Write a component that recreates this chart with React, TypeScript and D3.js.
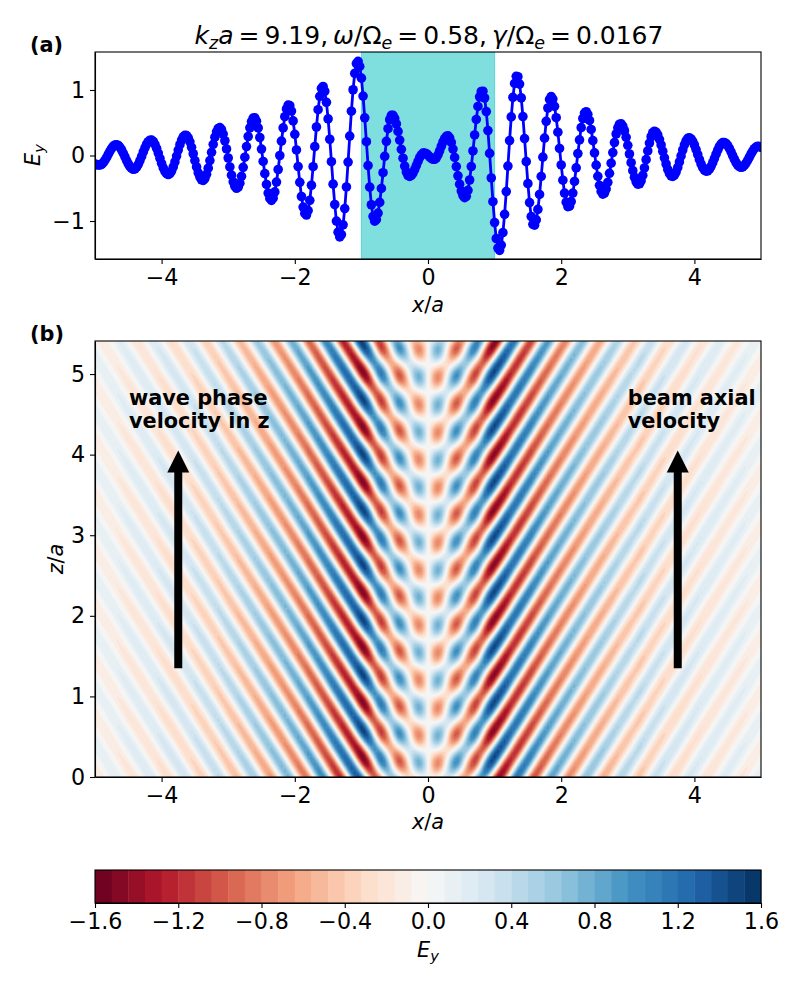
// App.tsx
import React, { useEffect, useRef } from 'react';
import * as d3 from 'd3';

// Ey(x), x = -5 .. 5, step 0.025
const eyLine = [
  -.13, -.14, -.145, -.145, -.134, -.109, -.072, -.029, .02, .067,
  .109, .141, .16, .165, .153, .125, .084, .033, -.022, -.078,
  -.129, -.17, -.198, -.21, -.204, -.178, -.135, -.078, -.014, .054,
  .118, .172, .211, .233, .235, .214, .171, .11, .037, -.043,
  -.12, -.189, -.243, -.278, -.29, -.276, -.237, -.175, -.098, -.008,
  .083, .165, .235, .284, .308, .304, .27, .209, .125, .027,
  -.077, -.175, -.264, -.33, -.37, -.38, -.352, -.287, -.193, -.078,
  .048, .171, .279, .362, .412, .425, .395, .327, .225, .1,
  -.038, -.175, -.3, -.402, -.47, -.5, -.484, -.423, -.318, -.181,
  -.026, .137, .29, .422, .517, .571, .575, .524, .421, .275,
  .098, -.091, -.277, -.442, -.573, -.656, -.685, -.652, -.556, -.405,
  -.214, 0, .219, .421, .592, .711, .77, .761, .679, .528,
  .324, .085, -.169, -.41, -.626, -.788, -.885, -.909, -.841, -.684,
  -.454, -.171, .135, .435, .699, .903, 1.025, 1.054, .981, .812,
  .559, .248, -.095, -.437, -.748, -1.001, -1.17, -1.243, -1.207, -1.058,
  -.81, -.48, -.101, .296, .676, 1.004, 1.253, 1.403, 1.438, 1.36,
  1.181, .908, .575, .211, -.154, -.483, -.752, -.931, -1.003, -.978,
  -.879, -.716, -.503, -.263, -.014, .216, .409, .546, .614, .612,
  .566, .482, .368, .235, .094, -.041, -.161, -.252, -.306, -.319,
  -.304, -.267, -.215, -.153, -.09, -.032, .011, .036, .039, .027,
  .005, -.02, -.043, -.058, -.058, -.035, .011, .072, .141, .206,
  .259, .292, .299, .27, .2, .098, -.03, -.169, -.31, -.437,
  -.542, -.612, -.644, -.623, -.531, -.374, -.169, .069, .314, .55,
  .749, .896, .977, .981, .878, .671, .38, .032, -.343, -.705,
  -1.024, -1.267, -1.413, -1.448, -1.367, -1.178, -.898, -.55, -.162, .228,
  .589, .888, 1.1, 1.209, 1.203, 1.09, .879, .595, .258, -.094,
  -.43, -.719, -.933, -1.05, -1.063, -.983, -.823, -.595, -.32, -.025,
  .265, .521, .725, .856, .9, .862, .751, .577, .356, .108,
  -.144, -.377, -.574, -.712, -.78, -.774, -.703, -.573, -.396, -.189,
  .03, .238, .425, .565, .648, .669, .629, .536, .398, .227,
  .04,
  -.147, -.318, -.456, -.548, -.589, -.574, -.513, -.409, -.272, -.118,
  .045, .198, .328, .423, .477, .483, .448, .378, .277, .156,
  .023, -.11, -.231, -.332, -.402, -.437, -.432, -.386, -.302, -.19,
  -.063, .07, .19, .286, .348, .37, .355, .313, .247, .161,
  .065, -.035, -.13, -.212, -.274, -.311, -.32, -.299, -.252, -.183,
  -.098, -.006, .084, .163, .224, .261, .27, .253, .216, .16,
  .091, .015, -.061, -.13, -.186, -.223, -.24, -.234, -.209, -.166,
  -.11, -.047, .02, .082, .136, .174, .196, .199, .183, .152,
  .108, .056, -.002, -.057, -.107, -.146, -.171, -.18, -.173, -.151,
  -.116, -.073, -.026, .024, .068, .104, .129, .14, .138, .125,
];
// Ey (b) a quarter wave up (z ~ 0.17), x = -5 .. 5, step 0.05
const eyQuarter = [
  -.101, -.026, .065, .137, .16, .121, .033, -.072, -.158, -.19,
  -.153, -.056, .067, .173, .223, .197, .095, -.047, -.178, -.253,
  -.242, -.139, .02, .179, .281, .291, .191, .017, -.172, -.307,
  -.342, -.248, -.052, .173, .344, .399, .305, .089, -.173, -.381,
  -.46, -.372, -.138, .159, .414, .536, .473, .227, -.115, -.433,
  -.613, -.586, -.336, .05, .436, .685, .707, .465, .041, -.42,
  -.748, -.833, -.602, -.125, .426, .842, .978, .745, .209, -.439,
  -.954, -1.15, -.932, -.353, .38, 1.01, 1.311, 1.162, .579, -.231,
  -.983, -1.409, -1.36, -.858, -.095, .638, 1.06, 1.032, .646, .05,
  -.546, -.93, -.977, -.736, -.302, .193, .603, .794, .726, .448,
  .043, -.376, -.686, -.8, -.652, -.256, .256, .717, .976, .937,
  .578, .01, -.575, -.988, -1.09, -.754, -.064, .718, 1.293, 1.44,
  1.105, .408, -.413, -1.057, -1.3, -1.09, -.534, .18, .806, 1.131,
  1.053, .618, -.013, -.608, -.948, -.921, -.587, -.07, .447, .78,
  .817, .575, .151, -.31, -.638, -.725, -.559, -.214, .191, .507,
  .63, .527, .253, -.095, -.393, -.536, -.483, -.272, .02, .292,
  .445, .432, .274, .03, -.214, -.371, -.388, -.265, -.051, .172,
  .319, .336, .241, .072, -.113, -.25, -.294, -.234, -.096, .071,
  .204, .255, .213, .102, -.039, -.16, -.218, -.197, -.11, .01,
  .121, .184, .179, .114, .015, -.084, -.148, -.156, -.111, -.033,
  .052,
];

const kz = 9.19; // from the title, the field in (b) just rotates with this in z
const beamEdges = [-1, 1];
const xTicks = [-4, -2, 0, 2, 4];
const eyTicks = [-1, 0, 1];
const zTicks = [0, 1, 2, 3, 4, 5];
const cbarTicks = [-1.6, -1.2, -0.8, -0.4, 0, 0.4, 0.8, 1.2, 1.6];
const rdbu = ['#67001f', '#b2182b', '#d6604d', '#f4a582', '#fddbc7', '#f7f7f7', '#d1e5f0', '#92c5de', '#4393c3', '#2166ac', '#053061'];

const FONT = '"DejaVu Sans", sans-serif';
const TICK = 22.2;
const LABEL = 20.83;

type Part = [string, 'r' | 'i' | 's'];

// mathtext-ish label: roman, italic and subscript runs
const mathParts = (text: any, parts: Part[], size: number) => {
  let down = 0;
  parts.forEach(([s, kind]) => {
    const want = kind === 's' ? size * 0.2 : 0;
    text.append('tspan')
      .attr('dy', want - down)
      .attr('font-style', kind === 'r' ? 'normal' : 'italic')
      .attr('font-size', kind === 's' ? size * 0.7 : size)
      .text(s);
    down = want;
  });
};

const App: React.FC = () => {
  const svgRef = useRef<SVGSVGElement>(null);

  useEffect(() => {
    if (!svgRef.current) return;
    const svg = d3.select(svgRef.current);
    svg.selectAll('*').remove();

    const left = 95, right = 761;
    const x = d3.scaleLinear().domain([-5, 5]).range([left, right]);
    const yA = d3.scaleLinear().domain([-1.58, 1.58]).range([259, 52]);
    const zB = d3.scaleLinear().domain([0, 5.41]).range([777, 341]);
    const cbarX = d3.scaleLinear().domain([-1.6, 1.6]).range([left, right]);

    const rdbuMap = d3.scaleLinear<string>().domain(d3.range(11).map(i => i / 10)).range(rdbu).interpolate(d3.interpolateRgb);
    const levels = d3.range(40).map(i => -1.6 + i * 0.08);
    const bandColor = (i: number) => rdbuMap((i + 0.5) / 40);

    const defs = svg.append('defs');
    defs.append('clipPath').attr('id', 'clipA').append('rect').attr('x', left).attr('y', 52).attr('width', right - left).attr('height', 207);
    defs.append('clipPath').attr('id', 'clipB').append('rect').attr('x', left).attr('y', 341).attr('width', right - left).attr('height', 436);

    // panel (a)
    const points = eyLine.map((v, i) => [-5 + i * 0.025, v]) as [number, number][];

    const gA = svg.append('g').attr('clip-path', 'url(#clipA)');
    gA.append('rect')
      .attr('x', x(beamEdges[0])).attr('y', 52)
      .attr('width', x(beamEdges[1]) - x(beamEdges[0])).attr('height', 207)
      .attr('fill', '#00bfbf').attr('fill-opacity', 0.5)
      .attr('stroke', '#00bfbf').attr('stroke-opacity', 0.5);
    gA.append('path')
      .attr('d', d3.line().x(d => x(d[0])).y(d => yA(d[1]))(points))
      .attr('fill', 'none').attr('stroke', '#0000ff').attr('stroke-width', 2.8);
    gA.append('g').selectAll('circle').data(points).enter().append('circle')
      .attr('cx', d => x(d[0])).attr('cy', d => yA(d[1])).attr('r', 4.8).attr('fill', '#0000ff');

    // panel (b): Ey(x,z) = Ey(x,0) cos(kz z) + Ey(x,quarter wave) sin(kz z), contourf style
    const eyAtZero = eyLine.filter((_, i) => i % 2 === 0);
    const dz = 0.03;
    const nx = eyAtZero.length;
    const nz = 182;
    const field = new Array(nx * nz);
    for (let j = 0; j < nz; j++) {
      const c = Math.cos(kz * j * dz), s = Math.sin(kz * j * dz);
      for (let i = 0; i < nx; i++) {
        field[j * nx + i] = eyAtZero[i] * c + eyQuarter[i] * s;
      }
    }
    const contours = d3.contours().size([nx, nz]).thresholds(levels.slice(1))(field);
    const geo = d3.geoPath(d3.geoTransform({
      point(px, py) {
        this.stream.point(x(-5 + (px - 0.5) * 0.05), zB((py - 0.5) * dz));
      },
    }));
    const gB = svg.append('g').attr('clip-path', 'url(#clipB)');
    gB.append('rect').attr('x', left).attr('y', 341).attr('width', right - left).attr('height', 436).attr('fill', bandColor(0));
    gB.selectAll('path').data(contours).enter().append('path')
      .attr('d', d => geo(d as any))
      .attr('fill', (_, i) => bandColor(i + 1));

    // arrows and notes on (b)
    const arrowX = [-3.75, 3.75];
    const arrowZ = [1.35, 4.05];
    arrowX.forEach(ax => {
      const cx = x(ax), y0 = zB(arrowZ[0]), y1 = zB(arrowZ[1]);
      svg.append('path')
        .attr('d', `M${cx - 4},${y0}L${cx - 4},${y1 + 22}L${cx - 11},${y1 + 22}L${cx},${y1}L${cx + 11},${y1 + 22}L${cx + 4},${y1 + 22}L${cx + 4},${y0}Z`)
        .attr('fill', '#000');
    });
    const notes = [
      { xv: -4.49, lines: ['wave phase', 'velocity in z'] },
      { xv: 3, lines: ['beam axial', 'velocity'] },
    ];
    notes.forEach(n => {
      n.lines.forEach((line, i) => {
        svg.append('text')
          .attr('x', x(n.xv)).attr('y', 405 + i * 22.5)
          .attr('font-family', FONT).attr('font-weight', 'bold').attr('font-size', 20.83)
          .text(line);
      });
    });

    // axes
    const styleAxis = (g: any) => {
      g.attr('font-family', FONT).attr('font-size', TICK);
      g.selectAll('path.domain').attr('stroke-width', 1.1);
      g.selectAll('line').attr('stroke-width', 1.1);
    };
    const frame = (y0: number, y1: number) => {
      svg.append('rect').attr('x', left).attr('y', y0).attr('width', right - left).attr('height', y1 - y0)
        .attr('fill', 'none').attr('stroke', '#000').attr('stroke-width', 1.1);
    };

    svg.append('g').attr('transform', 'translate(0,259)')
      .call(d3.axisBottom(x).tickValues(xTicks).tickFormat(d3.format('d') as any).tickSize(5).tickPadding(5).tickSizeOuter(0)).call(styleAxis);
    svg.append('g').attr('transform', `translate(${left},0)`)
      .call(d3.axisLeft(yA).tickValues(eyTicks).tickFormat(d3.format('d') as any).tickSize(5).tickPadding(5).tickSizeOuter(0)).call(styleAxis);
    frame(52, 259);

    svg.append('g').attr('transform', 'translate(0,777)')
      .call(d3.axisBottom(x).tickValues(xTicks).tickFormat(d3.format('d') as any).tickSize(5).tickPadding(5).tickSizeOuter(0)).call(styleAxis);
    svg.append('g').attr('transform', `translate(${left},0)`)
      .call(d3.axisLeft(zB).tickValues(zTicks).tickFormat(d3.format('d') as any).tickSize(5).tickPadding(5).tickSizeOuter(0)).call(styleAxis);
    frame(341, 777);

    // colorbar
    svg.append('g').selectAll('rect').data(levels).enter().append('rect')
      .attr('x', d => cbarX(d)).attr('y', 870)
      .attr('width', d => cbarX(d + 0.08) - cbarX(d) + 0.4).attr('height', 33)
      .attr('fill', (_, i) => bandColor(i));
    svg.append('g').attr('transform', 'translate(0,903)')
      .call(d3.axisBottom(cbarX).tickValues(cbarTicks).tickFormat(d3.format('.1f') as any).tickSize(5).tickPadding(5).tickSizeOuter(0)).call(styleAxis);
    frame(870, 903);

    // labels
    const label = (px: number, py: number, parts: Part[], size: number, rotate = false) => {
      const t = svg.append('text')
        .attr('font-family', FONT).attr('text-anchor', 'middle').attr('fill', '#000')
        .attr('transform', `translate(${px},${py})${rotate ? ' rotate(-90)' : ''}`);
      mathParts(t, parts, size);
    };
    const xOverA: Part[] = [['x', 'i'], ['/', 'r'], ['a', 'i']];
    const ey: Part[] = [['E', 'i'], ['y', 's']];
    const thin = '\u2009';
    label(429, 44, [
      ['k', 'i'], ['z', 's'], ['a', 'i'], [`${thin}=${thin}9.19,${thin}`, 'r'],
      ['ω', 'i'], ['/Ω', 'r'], ['e', 's'], [`${thin}=${thin}0.58,${thin}`, 'r'],
      ['γ', 'i'], ['/Ω', 'r'], ['e', 's'], [`${thin}=${thin}0.0167`, 'r'],
    ], 25);
    label(428, 312, xOverA, LABEL);
    label(428, 829, xOverA, LABEL);
    label(428, 957, ey, LABEL);
    label(39.5, 155, ey, LABEL, true);
    label(63, 559, [['z', 'i'], ['/', 'r'], ['a', 'i']], LABEL, true);

    [['(a)', 52], ['(b)', 341]].forEach(([s, py]) => {
      svg.append('text').attr('x', 30).attr('y', py as number)
        .attr('font-family', FONT).attr('font-weight', 'bold').attr('font-size', 20.83)
        .text(s as string);
    });
  }, []);

  return <svg ref={svgRef} width={800} height={1000} viewBox="0 0 800 1000" style={{ position: 'absolute', left: 0, top: 0, background: '#fff' }} />;
};

export default App;
